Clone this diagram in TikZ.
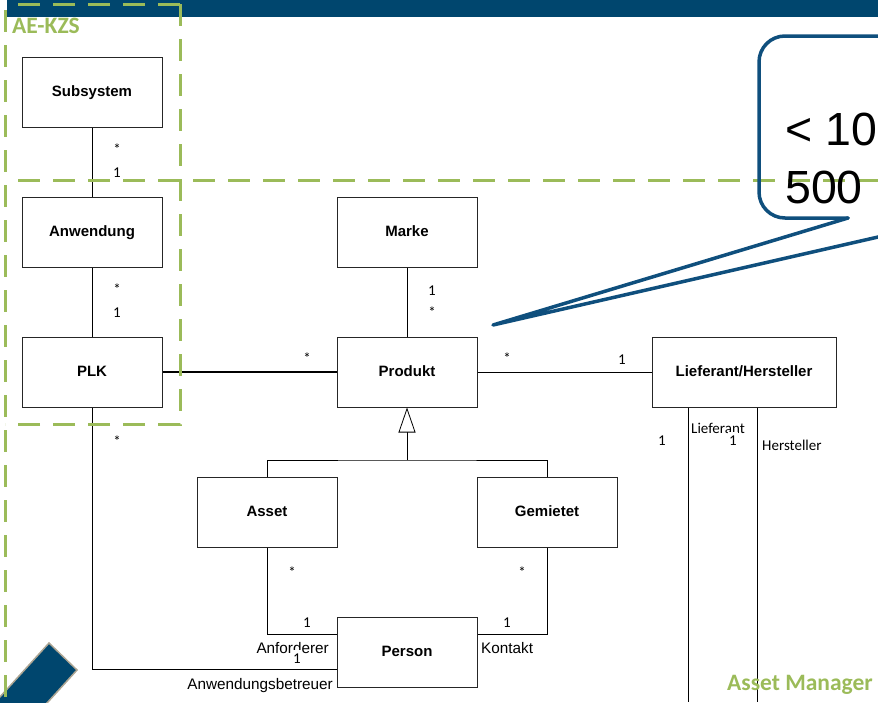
\documentclass[tikz,border=0pt]{standalone}
\usepackage{fontspec}
\setmainfont{Liberation Sans}
\newfontfamily\calib{Carlito}
\usetikzlibrary{arrows.meta}
\definecolor{kzsgreen}{HTML}{9BBB59}
\definecolor{bandblue}{HTML}{00466E}
\definecolor{callblue}{HTML}{0F4F7D}
\definecolor{stripeedge}{HTML}{ADA593}

\begin{document}
\begin{tikzpicture}[x=1pt,y=-1pt,
  cls/.style={draw=black!85, line width=1pt, fill=white, minimum width=140pt,
    minimum height=70pt, inner sep=0pt, text height=11pt, text depth=3pt,
    font=\fontsize{15}{18}\selectfont\bfseries},
  assoc/.style={line width=0.8pt, black},
  mult/.style={anchor=base, fill=white, inner xsep=1.5pt, inner ysep=1pt,
    text height=12pt, text depth=4pt, font=\calib\fontsize{15}{18}\selectfont},
  role/.style={inner sep=0pt, font=\fontsize{15.3}{18}\selectfont},
  crole/.style={inner sep=0pt, anchor=base west, font=\calib\fontsize{15}{18}\selectfont},
  zone/.style={kzsgreen, line width=3pt, dash pattern=on 22pt off 13pt},
  zonelabel/.style={kzsgreen, anchor=base west, inner sep=0pt,
    font=\calib\fontsize{23.5}{27}\selectfont\bfseries},
  callout/.style={callblue, line width=3.5pt, line join=round, line cap=round},
  bigtext/.style={anchor=base west, inner sep=0pt, font=\fontsize{46.5}{54}\selectfont},
]
\useasboundingbox (0,0) rectangle (878,702);

% header band and corner stripe
\fill[bandblue] (7,0) rectangle (878,17);
\filldraw[fill=bandblue, draw=stripeedge, line width=1.5pt]
  (49,643) -- (77,670) -- (17,736) -- (-11,709) -- cycle;

% classes
\node[cls] (sub) at (92,92)  {Subsystem};
\node[cls] (anw) at (92,232) {Anwendung};
\node[cls] (plk) at (92,372) {PLK};
\node[cls] (mar) at (407,232) {Marke};
\node[cls] (pro) at (407,372) {Produkt};
\node[cls, minimum width=184pt] (lie) at (744,372) {Lieferant/Hersteller};
\node[cls] (ass) at (267,512) {Asset};
\node[cls] (gem) at (547,512) {Gemietet};
\node[cls] (per) at (407,652) {Person};

% associations
\draw[assoc] (sub) -- (anw);
\draw[assoc] (anw) -- (plk);
\draw[assoc] (mar) -- (pro);
\draw[assoc, line width=2pt] (plk) -- (pro);
\draw[assoc] (pro) -- (lie);

% generalization
\coordinate (gj) at (407,460);
\draw[assoc, -{Triangle[open, length=25pt, width=17pt, fill=white]}] (gj) -- (pro);
\draw[assoc] (ass.north) |- (gj) -| (gem.north);

% roles of Person
\draw[assoc] (ass.south) |- ([yshift=18pt]per.west);
\draw[assoc] (gem.south) |- ([yshift=18pt]per.east);
\draw[assoc] (plk.south) |- ([yshift=-17pt]per.west);

% supplier / manufacturer links
\coordinate (lf) at (688,702);
\coordinate (hs) at (757,702);
\draw[assoc] (lie.south -| lf) -- (lf);
\draw[assoc] (lie.south -| hs) -- (hs);

% role names
\node[role, anchor=base east] (rAnf) at (329,653) {Anforderer};
\node[role, anchor=base west] (rKon) at (481,653) {Kontakt};
\node[role, anchor=base east] (rBet) at (333,689) {Anwendungsbetreuer};
\node[crole] (rLie) at (691,433) {Lieferant};
\node[crole] (rHer) at (762,450) {Hersteller};

% zones
\draw[zone] (5,10) -- (5,702);
\draw[zone] (18,4) -- (180,4);
\draw[zone] (180,4) -- (180,424) -- (5,424);
\draw[zone] (18,180) -- (878,180);
\node[zonelabel] (zA) at (12,33) {AE-KZS};
\node[zonelabel] (zB) at (727,690) {Asset Manager};

% multiplicities (white backing, on top of the zone borders)
\node[mult] (m1) at (117,154.5) {*};
\node[mult] (m2) at (117,177) {1};
\node[mult] (m3) at (117,294.5) {*};
\node[mult] (m4) at (117,317) {1};
\node[mult] (m5) at (432,295) {1};
\node[mult] (m6) at (432,317.5) {*};
\node[mult] (m7) at (307,363.5) {*};
\node[mult] (m8) at (507,363.5) {*};
\node[mult] (m9) at (622,364) {1};
\node[mult] (m10) at (117,446.5) {*};
\node[mult] (m11) at (292,577.5) {*};
\node[mult] (m12) at (522,577.5) {*};
\node[mult] (m13) at (307,627) {1};
\node[mult] (m14) at (507,627) {1};
\node[mult] (m15) at (297,663) {1};
\node[mult] (m16) at (662,445) {1};
\node[mult] (m17) at (733,445) {1};

% callout
\draw[callout, rounded corners=26pt] (848,218) -- (759,218) -- (759,36) -- (900,36);
\draw[callout] (848,218) -- (493,325) -- (900,232);
\node[bigtext] (t1) at (785,145) {< 10};
\node[bigtext] (t2) at (785,203) {500};
\end{tikzpicture}
\end{document}
